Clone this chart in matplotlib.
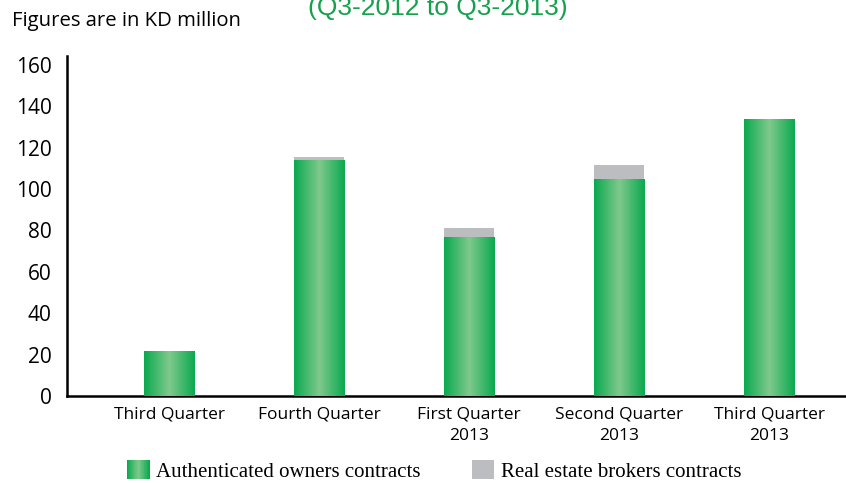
import numpy as np
import matplotlib.pyplot as plt
from matplotlib.patches import Rectangle
from matplotlib.legend_handler import HandlerBase
from matplotlib.colors import LinearSegmentedColormap

quarters = ["Third Quarter", "Fourth Quarter", "First Quarter\n2013",
            "Second Quarter\n2013", "Third Quarter\n2013"]
owners = [22, 114, 77, 105, 134]
brokers = [0, 1.5, 4, 6.5, 0]

green_dark = "#0aa94f"
green_light = "#80c98c"
grey = "#bcbdc0"
cmap = LinearSegmentedColormap.from_list("bar", [green_dark, green_light, green_dark])
grad = np.linspace(0, 1, 200).reshape(1, -1)


class GradientHandler(HandlerBase):
    def create_artists(self, legend, orig_handle, xdescent, ydescent,
                       width, height, fontsize, trans):
        n = 30
        out = []
        for i in range(n):
            c = cmap(i / (n - 1))
            out.append(Rectangle((-xdescent + width * i / n, -ydescent),
                                 width / n + 0.3, height, facecolor=c,
                                 edgecolor="none", transform=trans))
        return out


class SolidHandler(HandlerBase):
    def create_artists(self, legend, orig_handle, xdescent, ydescent,
                       width, height, fontsize, trans):
        return [Rectangle((-xdescent, -ydescent), width, height,
                          facecolor=grey, edgecolor="none", transform=trans)]


fig = plt.figure(figsize=(8.46, 4.83), dpi=100)
ax = fig.add_axes([0.0792, 0.18, 0.9208, 0.704])

x = np.arange(len(quarters))
width = 1 / 3
bars = ax.bar(x, owners, width, color=green_dark, zorder=2)
ax.bar(x, brokers, width, bottom=owners, color=grey, zorder=2)

# horizontal shading inside each green bar
for b in bars:
    x0, w, h = b.get_x(), b.get_width(), b.get_height()
    im = ax.imshow(grad, cmap=cmap, aspect="auto", extent=(x0, x0 + w, 0, h),
                   zorder=3, interpolation="bicubic")
    im.set_clip_path(b)

ax.set_xlim(-0.68, 4.51)
ax.set_ylim(0, 164.3)
ax.set_yticks(range(0, 161, 20))
ax.set_xticks(x)
ax.set_xticklabels(quarters, fontsize=12.5, family="Open Sans", linespacing=1.5)
for lab in ax.get_yticklabels():
    lab.set_fontsize(15)
    lab.set_family("Open Sans")
ax.tick_params(axis="y", length=0, pad=11)
ax.tick_params(axis="x", length=0, pad=7.5)

for s in ["top", "right"]:
    ax.spines[s].set_visible(False)
for s in ["left", "bottom"]:
    ax.spines[s].set_linewidth(1.8)

fig.text(0.014, 1 - 21 / 483, "Figures are in KD million", fontsize=14.6,
         family="Open Sans", va="center", ha="left")
fig.text(0.518, 1 - 15 / 483, "(Q3-2012 to Q3-2013)", fontsize=19,
         family="Liberation Sans", color="#17a14f", ha="center", va="baseline")

h1 = Rectangle((0, 0), 1, 1)
h2 = Rectangle((0, 0), 1, 1)
fig.legend([h1, h2], ["Authenticated owners contracts", "Real estate brokers contracts"],
           handler_map={h1: GradientHandler(), h2: SolidHandler()},
           loc="center", bbox_to_anchor=(0.513, 1 - 471 / 483), ncol=2,
           frameon=False, prop={"family": "Liberation Serif", "size": 15},
           handlelength=1.1, handleheight=1.05, handletextpad=0.3,
           columnspacing=2.45, borderpad=0, borderaxespad=0)

fig.savefig("out.png", dpi=100)
